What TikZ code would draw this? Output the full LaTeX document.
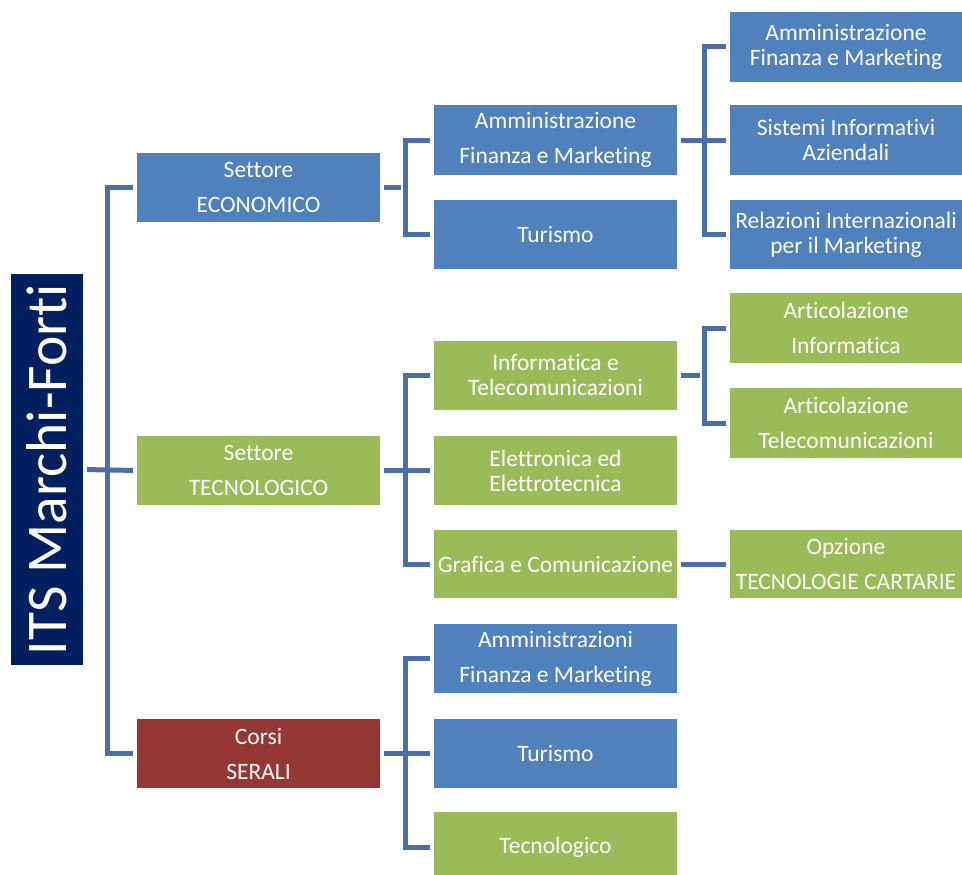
\documentclass[tikz,border=0pt]{standalone}
\usepackage{fontspec}
\setmainfont{Carlito}[Ligatures={NoCommon}]
\definecolor{navyc}{HTML}{002060}
\definecolor{bluec}{HTML}{4F81BD}
\definecolor{greenc}{HTML}{9BBB59}
\definecolor{redc}{HTML}{953735}
\definecolor{linec}{HTML}{4A6FA8}
\begin{document}
\begin{tikzpicture}[x=1pt,y=-1pt,
  box/.style={inner sep=0pt,outer sep=0pt,text=white,align=center,font=\fontsize{23.5}{35}\selectfont},
  tight/.style={font=\fontsize{23.5}{25}\selectfont},
  wa/.style={box,minimum width=243pt},
  wb/.style={box,minimum width=232pt},
  bl/.style={fill=bluec},
  gr/.style={fill=greenc},
  rd/.style={fill=redc},
  conn/.style={draw=linec,line width=5pt,shorten >=4pt,shorten <=4pt}]
\useasboundingbox (0,0) rectangle (962,875);
\node[box,fill=navyc,minimum width=72pt,minimum height=391pt] (root) at (47,469.5) {};
\node[text=white,rotate=90,font=\fontsize{57.5}{60}\selectfont,inner sep=0pt] (roott) at (root.center) {ITS Marchi-Forti};
% level 1
\node[wa,bl,minimum height=69pt] (eco) at (258.5,187.5) {Settore\\ECONOMICO};
\node[wa,gr,minimum height=69pt] (tec) at (258.5,470.5) {Settore\\TECNOLOGICO};
\node[wa,rd,minimum height=69pt] (ser) at (258.5,753.5) {Corsi\\SERALI};
% level 2
\node[wa,bl,minimum height=70pt] (afm) at (555.5,140) {Amministrazione\\Finanza e Marketing};
\node[wa,bl,minimum height=69pt] (tur) at (555.5,234.5) {Turismo};
\node[wa,gr,tight,minimum height=69pt] (inf) at (555.5,375.5) {Informatica e\\Telecomunicazioni};
\node[wa,gr,tight,minimum height=69pt] (ele) at (555.5,470.5) {Elettronica ed\\Elettrotecnica};
\node[wa,gr,minimum height=68pt] (gra) at (555.5,564) {Grafica e Comunicazione};
\node[wa,bl,minimum height=69pt] (afm2) at (555.5,658.5) {Amministrazioni\\Finanza e Marketing};
\node[wa,bl,minimum height=69pt] (tur2) at (555.5,753.5) {Turismo};
\node[wa,gr,minimum height=70pt] (tecn) at (555.5,847) {Tecnologico};
% level 3
\node[wb,bl,tight,minimum height=70pt] (afm3) at (846,47) {Amministrazione\\Finanza e Marketing};
\node[wb,bl,tight,minimum height=70pt] (sia) at (846,140) {Sistemi Informativi\\Aziendali};
\node[wb,bl,tight,minimum height=69pt] (ria) at (846,234.5) {Relazioni Internazionali\\per il Marketing};
\node[wb,gr,minimum height=70pt] (art1) at (846,328) {Articolazione\\Informatica};
\node[wb,gr,minimum height=70pt] (art2) at (846,423) {Articolazione\\Telecomunicazioni};
\node[wb,gr,minimum height=68pt] (opz) at (846,564) {Opzione\\TECNOLOGIE CARTARIE};
% junctions
\coordinate (j0) at (107,469.5);
\coordinate (j1) at (405,187.5);
\coordinate (j2) at (704,140);
\coordinate (j3) at (704,375.5);
\coordinate (j4) at (405,470.5);
\coordinate (j5) at (405,753.5);
% connectors
\draw[conn] (root.east) -- (tec.west);
\draw[conn] (eco.west) -| (j0) |- (ser.west);
\draw[conn] (eco.east) -- (j1);
\draw[conn] (afm.west) -| (j1) |- (tur.west);
\draw[conn] (afm.east) -- (sia.west);
\draw[conn] (afm3.west) -| (j2) |- (ria.west);
\draw[conn] (inf.east) -- (j3);
\draw[conn] (art1.west) -| (j3) |- (art2.west);
\draw[conn] (gra.east) -- (opz.west);
\draw[conn] (tec.east) -- (ele.west);
\draw[conn] (inf.west) -| (j4) |- (gra.west);
\draw[conn] (ser.east) -- (tur2.west);
\draw[conn] (afm2.west) -| (j5) |- (tecn.west);
\end{tikzpicture}
\end{document}
